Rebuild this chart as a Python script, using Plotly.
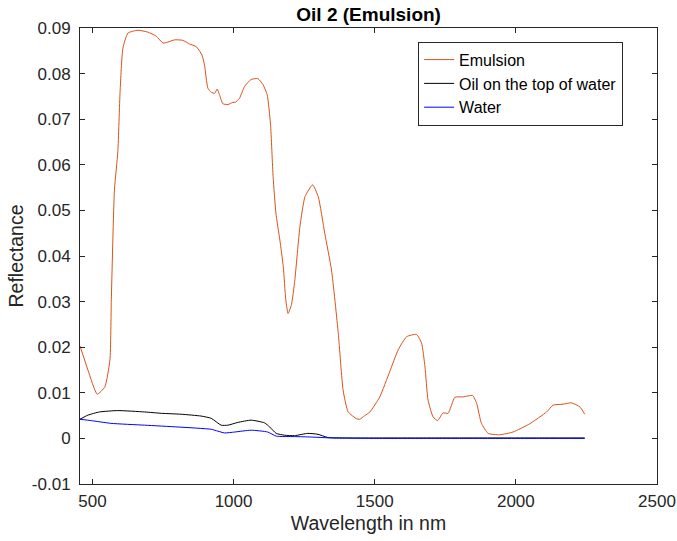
import plotly.graph_objects as go

# Emulsion spectrum
emul_x = [456, 484, 517, 544, 562, 567, 578, 590, 598, 608, 626, 661, 696, 726, 750, 767, 791, 820,
          844, 868, 888, 897, 909, 921, 933, 942, 950, 962, 980, 997, 1006, 1021, 1039, 1062, 1086,
          1104, 1119, 1131, 1140, 1150, 1164, 1176, 1185, 1193, 1205, 1217, 1235, 1253, 1280, 1300,
          1323, 1347, 1371, 1388, 1406, 1436, 1447, 1465, 1483, 1518, 1553, 1583, 1613, 1648, 1666,
          1678, 1689, 1707, 1723, 1742, 1760, 1784, 1813, 1847, 1861, 1878, 1902, 1943, 1990, 2049,
          2109, 2132, 2167, 2197, 2227, 2244]
emul_y = [0.0203, 0.0150, 0.0097, 0.0113, 0.0172, 0.0304, 0.0545, 0.0629, 0.0761, 0.0856, 0.0889,
          0.0895, 0.0891, 0.0882, 0.0867, 0.0869, 0.0874, 0.0873, 0.0865, 0.0859, 0.0841, 0.0819,
          0.0768, 0.0759, 0.0757, 0.0766, 0.0754, 0.0734, 0.0732, 0.0737, 0.0737, 0.0746, 0.0772,
          0.0787, 0.0789, 0.0776, 0.0754, 0.0688, 0.0574, 0.0494, 0.0435, 0.0377, 0.0304, 0.0274,
          0.0293, 0.0347, 0.0464, 0.0530, 0.0556, 0.0530, 0.0450, 0.0369, 0.0230, 0.0106, 0.0058,
          0.0043, 0.0042, 0.0050, 0.0058, 0.0091, 0.0146, 0.0194, 0.0223, 0.0228, 0.0209, 0.0157,
          0.0084, 0.0047, 0.0039, 0.0056, 0.0055, 0.0090, 0.0091, 0.0094, 0.0077, 0.0033, 0.0011,
          0.0008, 0.0014, 0.0032, 0.0058, 0.0073, 0.0075, 0.0078, 0.0069, 0.0053]

# Oil on the top of water
oil_x = [456, 484, 525, 590, 685, 744, 814, 885, 921, 956, 980, 1015, 1062, 1110, 1128, 1151, 1181,
         1216, 1263, 1299, 1334, 1400, 1600, 1800, 2000, 2244]
oil_y = [0.0042, 0.0051, 0.0058, 0.0061, 0.0058, 0.0055, 0.0053, 0.0049, 0.0044, 0.0029, 0.0029,
         0.0035, 0.0040, 0.0034, 0.0025, 0.0011, 0.0007, 0.0006, 0.0011, 0.0009, 0.0002, 0.0001,
         0.0001, 0.0001, 0.0001, 0.0001]

# Water
water_x = [456, 496, 566, 685, 803, 921, 944, 968, 1004, 1062, 1121, 1151, 1216, 1275, 1346, 1500,
           1700, 1900, 2100, 2244]
water_y = [0.0042, 0.0039, 0.0033, 0.0029, 0.0025, 0.0020, 0.0016, 0.0012, 0.0014, 0.0018, 0.0014,
           0.0005, 0.0004, 0.0003, 0.0001, 0.0000, 0.0000, 0.0000, 0.0000, 0.0000]

x_ticks = [500, 1000, 1500, 2000, 2500]
y_ticks = [-0.01, 0, 0.01, 0.02, 0.03, 0.04, 0.05, 0.06, 0.07, 0.08, 0.09]
y_tick_labels = ["-0.01", "0", "0.01", "0.02", "0.03", "0.04", "0.05", "0.06", "0.07", "0.08", "0.09"]

FONT = "Liberation Sans, Arial, Helvetica, sans-serif"
AX = "#262626"

fig = go.Figure()
fig.add_trace(go.Scatter(x=emul_x, y=emul_y, mode="lines", name="Emulsion",
                         line=dict(color="#D95319", width=1, shape="spline", smoothing=0.5)))
fig.add_trace(go.Scatter(x=oil_x, y=oil_y, mode="lines", name="Oil on the top of water",
                         line=dict(color="#000000", width=1, shape="spline", smoothing=0.5)))
fig.add_trace(go.Scatter(x=water_x, y=water_y, mode="lines", name="Water",
                         line=dict(color="#0000FF", width=1, shape="spline", smoothing=0.5)))

axis_common = dict(showgrid=False, zeroline=False, showline=True, linecolor=AX, linewidth=1,
                   mirror="ticks", ticks="inside", ticklen=5, tickcolor=AX, automargin=False,
                   tickfont=dict(family=FONT, size=17, color=AX))

fig.update_xaxes(range=[456, 2500], tickvals=x_ticks, ticklabelstandoff=2,
                 title=dict(text="Wavelength in nm", font=dict(family=FONT, size=19.5, color=AX), standoff=5),
                 **axis_common)
fig.update_yaxes(range=[-0.01, 0.09], tickvals=y_ticks, ticktext=y_tick_labels, ticklabelstandoff=5,
                 title=dict(text="Reflectance", font=dict(family=FONT, size=19.5, color=AX), standoff=3),
                 **axis_common)

fig.update_layout(
    width=677, height=541,
    margin=dict(l=80, r=20, t=28, b=57),
    paper_bgcolor="white", plot_bgcolor="white",
    title=dict(text="<b>Oil 2 (Emulsion)</b>", x=0.5445, xanchor="center", y=0.974, yanchor="middle",
               font=dict(family=FONT, size=19, color="#000000")),
    legend=dict(x=0.586, y=0.970, xanchor="left", yanchor="top",
                bordercolor=AX, borderwidth=1, bgcolor="white",
                font=dict(family=FONT, size=16, color="#000000"),
                tracegroupgap=0, itemwidth=30),
    showlegend=True,
)

fig.write_html("out.html", config={"displayModeBar": False},
               post_script="document.body.style.margin='0';")
